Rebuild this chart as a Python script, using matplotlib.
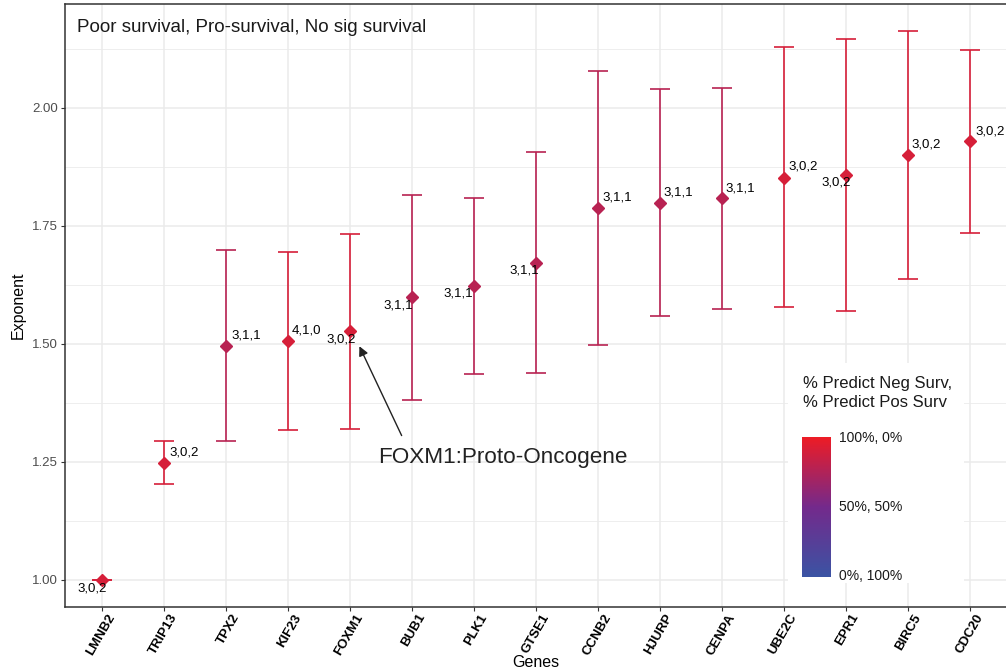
import matplotlib
matplotlib.use('Agg')
import matplotlib.pyplot as plt
import matplotlib.transforms as mtransforms
import numpy as np
from matplotlib.colors import LinearSegmentedColormap
from matplotlib.patches import Rectangle

genes = ['LMNB2', 'TRIP13', 'TPX2', 'KIF23', 'FOXM1', 'BUB1', 'PLK1', 'GTSE1',
         'CCNB2', 'HJURP', 'CENPA', 'UBE2C', 'EPR1', 'BIRC5', 'CDC20']
exponent = [1.000, 1.248, 1.496, 1.506, 1.528, 1.598, 1.623, 1.672,
            1.788, 1.799, 1.808, 1.852, 1.858, 1.900, 1.929]
ci_low = [1.000, 1.203, 1.294, 1.318, 1.320, 1.381, 1.436, 1.439,
          1.497, 1.558, 1.574, 1.577, 1.569, 1.638, 1.735]
ci_high = [1.000, 1.294, 1.699, 1.695, 1.733, 1.816, 1.809, 1.907,
           2.078, 2.040, 2.042, 2.128, 2.145, 2.162, 2.122]
n_poor = [3, 3, 3, 4, 3, 3, 3, 3, 3, 3, 3, 3, 3, 3, 3]
n_pro = [0, 0, 1, 1, 0, 1, 1, 1, 1, 1, 1, 0, 0, 0, 0]
n_nosig = [2, 2, 1, 0, 2, 1, 1, 1, 1, 1, 1, 2, 2, 2, 2]
# colour position on the legend bar
color_score = [0.90, 0.90, 0.78, 0.90, 0.90, 0.78, 0.78, 0.78,
               0.78, 0.78, 0.78, 0.90, 0.90, 0.90, 0.90]

cmap = LinearSegmentedColormap.from_list('surv', ['#3B54A4', '#742A8C', '#EE1C25'])

W, H = 1006, 671
fig = plt.figure(figsize=(W / 100, H / 100), dpi=100)
ax = fig.add_axes([65 / W, 64 / H, 942.2 / W, 603 / H])

x = np.arange(1, len(genes) + 1)
ax.set_xlim(0.4, 15.6)
ax.set_ylim(0.942, 2.22)

ax.set_axisbelow(True)
ax.set_yticks([1.00, 1.25, 1.50, 1.75, 2.00])
ax.set_yticks([1.125, 1.375, 1.625, 1.875, 2.125], minor=True)
ax.set_yticklabels(['1.00', '1.25', '1.50', '1.75', '2.00'])
ax.grid(True, which='major', color='#EBEBEB', linewidth=1.1)
ax.grid(True, which='minor', axis='y', color='#EBEBEB', linewidth=0.6)
ax.tick_params(which='minor', length=0)
ax.tick_params(which='major', length=3, width=0.8, color='#333333')
ax.tick_params(axis='y', labelsize=9.5, labelcolor='#4D4D4D', pad=2)
for sp in ax.spines.values():
    sp.set_color('#333333')
    sp.set_linewidth(1.1)

ax.set_xticks(x)
ax.set_xticklabels(genes, rotation=60, ha='right', va='top',
                   rotation_mode='anchor', fontweight='bold', fontsize=9.5)
ax.tick_params(axis='x', pad=0.5)
shift = mtransforms.ScaledTranslation(5 / 100, 0, fig.dpi_scale_trans)
for lab in ax.get_xticklabels():
    lab.set_transform(lab.get_transform() + shift)

# legend backdrop (hides grid lines like ggplot's legend box)
ax.add_patch(Rectangle((788 / W, 1 - 583 / H), 176 / W, 220 / H,
                       transform=fig.transFigure, facecolor='white',
                       edgecolor='none', zorder=1))

for i in range(len(genes)):
    c = cmap(color_score[i])
    ax.errorbar(x[i], exponent[i],
                yerr=[[exponent[i] - ci_low[i]], [ci_high[i] - exponent[i]]],
                fmt='none', ecolor=c, elinewidth=1.2, capsize=7, capthick=1.2, zorder=2)
    ax.plot(x[i], exponent[i], marker='D', ms=6.5, color=c, zorder=3, linestyle='none')

# label offsets in pixels (dx, dy, ha)
offsets = [(-10, -9, 'center'), (5, 10, 'left'), (5, 10, 'left'), (4, 10, 'left'),
           (-9, -9, 'center'), (-14, -8, 'center'), (-16, -8, 'center'),
           (-12, -8, 'center'), (4, 10, 'left'), (3, 10, 'left'), (3, 10, 'left'),
           (4, 11, 'left'), (-10, -8, 'center'), (3, 10, 'left'), (5, 10, 'left')]
for i in range(len(genes)):
    dx, dy, ha = offsets[i]
    ax.annotate(f'{n_poor[i]},{n_pro[i]},{n_nosig[i]}', (x[i], exponent[i]),
                xytext=(dx * 0.72, dy * 0.72), textcoords='offset points',
                ha=ha, va='center', fontsize=9.5, family='Liberation Sans',
                color='black', zorder=4)

ax.annotate('', xy=(5.13, 1.50), xytext=(5.85, 1.30),
            arrowprops=dict(arrowstyle='-|>', color='#222222', lw=1.0,
                            mutation_scale=14), zorder=4)
ax.text(5.45, 1.258, 'FOXM1:Proto-Oncogene', fontsize=16.2, family='Liberation Sans',
        ha='left', va='center', color='#222222')

fig.text(77 / W, 1 - 28 / H, 'Poor survival, Pro-survival, No sig survival',
         fontsize=13.5, family='Liberation Sans', ha='left', va='center', color='#1A1A1A')

ax.set_xlabel('Genes', fontsize=11.5, family='Liberation Sans')
ax.xaxis.set_label_coords((536 - 65) / 942.2, -(655 - 607) / 603)
ax.set_ylabel('Exponent', fontsize=11.5, family='Liberation Sans')
ax.yaxis.set_label_coords(-(65 - 26) / 942.2, 0.5)
for lab in ax.get_yticklabels() + ax.get_xticklabels():
    lab.set_family('Liberation Sans')

# colour bar legend
cax = fig.add_axes([802 / W, 1 - 577 / H, 29 / W, 140 / H])
grad = np.linspace(0, 1, 256).reshape(-1, 1)
cax.imshow(grad, aspect='auto', cmap=cmap, origin='lower', extent=[0, 1, 0, 1])
cax.set_axis_off()
fig.text(803 / W, 1 - 393 / H, '% Predict Neg Surv,\n% Predict Pos Surv',
         fontsize=12, family='Liberation Sans', ha='left', va='center',
         linespacing=1.3, color='#1A1A1A')
for txt, yy in [('100%, 0%', 438), ('50%, 50%', 507), ('0%, 100%', 576)]:
    fig.text(839 / W, 1 - yy / H, txt, fontsize=10, family='Liberation Sans',
             ha='left', va='center', color='#1A1A1A')

fig.savefig('out.png', dpi=100)
